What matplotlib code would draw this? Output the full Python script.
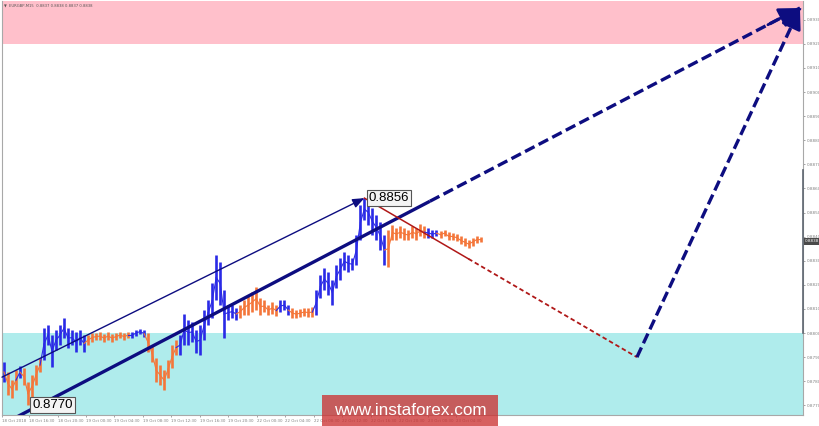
import numpy as np
import matplotlib
matplotlib.use("Agg")
import matplotlib.pyplot as plt
from matplotlib.transforms import blended_transform_factory
from matplotlib.patches import Rectangle

# ---------------- data ----------------
highs = [0.87880, 0.87838, 0.87805, 0.87846, 0.87863, 0.87855, 0.87797, 0.87826, 0.87867, 0.87896,
         0.88021, 0.88033, 0.87992, 0.88012, 0.88033, 0.88062, 0.88021, 0.88012, 0.88004, 0.88012,
         0.87992, 0.87992, 0.88000, 0.88000, 0.88004, 0.87996, 0.88004, 0.87996, 0.88000, 0.88004,
         0.88000, 0.88004, 0.88004, 0.88012, 0.88017, 0.88012, 0.88000, 0.87950, 0.87896, 0.87867,
         0.87846, 0.87888, 0.87950, 0.87971, 0.87992, 0.88079, 0.88054, 0.88046, 0.88012, 0.88033,
         0.88095, 0.88137, 0.88207, 0.88324, 0.88295, 0.88178, 0.88116, 0.88116, 0.88104, 0.88116,
         0.88137, 0.88158, 0.88170, 0.88191, 0.88145, 0.88137, 0.88116, 0.88129, 0.88116, 0.88137,
         0.88137, 0.88116, 0.88104, 0.88095, 0.88100, 0.88104, 0.88104, 0.88108, 0.88178, 0.88241,
         0.88270, 0.88253, 0.88220, 0.88282, 0.88311, 0.88336, 0.88324, 0.88311, 0.88407, 0.88531,
         0.88560, 0.88552, 0.88519, 0.88490, 0.88461, 0.88407, 0.88427, 0.88448, 0.88436, 0.88444,
         0.88436, 0.88427, 0.88444, 0.88436, 0.88452, 0.88444, 0.88436, 0.88427, 0.88427, 0.88423,
         0.88427, 0.88419, 0.88415, 0.88411, 0.88402, 0.88394, 0.88386, 0.88394, 0.88402, 0.88398]

lows = [0.87797, 0.87743, 0.87730, 0.87763, 0.87813, 0.87784, 0.87700, 0.87730, 0.87784, 0.87838,
        0.87888, 0.87950, 0.87859, 0.87929, 0.87950, 0.87979, 0.87938, 0.87950, 0.87921, 0.87950,
        0.87921, 0.87950, 0.87963, 0.87971, 0.87971, 0.87963, 0.87971, 0.87963, 0.87971, 0.87979,
        0.87971, 0.87979, 0.87979, 0.87988, 0.87996, 0.87983, 0.87921, 0.87880, 0.87797, 0.87784,
        0.87763, 0.87813, 0.87855, 0.87909, 0.87909, 0.87950, 0.87950, 0.87963, 0.87917, 0.87909,
        0.87971, 0.88033, 0.88062, 0.88137, 0.88116, 0.87979, 0.88054, 0.88062, 0.88054, 0.88062,
        0.88075, 0.88075, 0.88087, 0.88095, 0.88075, 0.88087, 0.88075, 0.88079, 0.88071, 0.88087,
        0.88095, 0.88075, 0.88062, 0.88062, 0.88066, 0.88071, 0.88066, 0.88066, 0.88075, 0.88145,
        0.88178, 0.88158, 0.88116, 0.88187, 0.88220, 0.88261, 0.88253, 0.88261, 0.88282, 0.88386,
        0.88469, 0.88448, 0.88407, 0.88386, 0.88344, 0.88282, 0.88274, 0.88386, 0.88386, 0.88394,
        0.88386, 0.88386, 0.88394, 0.88386, 0.88402, 0.88394, 0.88394, 0.88394, 0.88402, 0.88394,
        0.88402, 0.88386, 0.88386, 0.88382, 0.88369, 0.88361, 0.88353, 0.88361, 0.88373, 0.88378]

# wave colouring: run-length of (wave type, number of samples)
wave_runs = [("up", 1), ("down", 3), ("up", 1), ("down", 5), ("up", 11), ("down", 11),
             ("up", 4), ("down", 8), ("up", 15), ("down", 10), ("up", 3), ("down", 6),
             ("up", 18), ("down", 10), ("up", 3), ("down", 11)]

first_bar = 1.1      # M15 bar index of first sample
bar_step = 2.25      # M15 bars per sample

price_ticks = [round(0.8770 + 0.001 * k, 4) for k in range(17)]
time_labels = ["18 Oct 2018", "18 Oct 16:30", "18 Oct 20:30", "19 Oct 00:30", "19 Oct 04:30",
               "19 Oct 08:30", "19 Oct 12:30", "19 Oct 16:30", "19 Oct 20:30", "22 Oct 00:30",
               "22 Oct 04:30", "22 Oct 08:30", "22 Oct 12:30", "22 Oct 16:30", "22 Oct 20:30",
               "23 Oct 00:30", "23 Oct 04:30"]
time_tick_bars = [0] + [15.2 + 16 * k for k in range(16)]

resistance_zone = (0.8920, 0.8950)
support_zone = (0.8750, 0.8800)

channel_thin_start = (0.0, 0.87817)
channel_thick = [(-2.0, 0.87612), (448.3, 0.89349)]
thick_solid_until = 240.4
target_low = (356.7, 0.8790)
red_solid_until = 262.0
current_price = 0.8838
header = "EURGBP,M15  0.8837 0.8838 0.8837 0.8838"

# ---------------- styles ----------------
BLUE = "#2A2AE6"
ORANGE = "#F4763A"
NAVY = "#0D0D80"
RED = "#B01818"
PINK = "#FFC0CB"
CYAN = "#AFECEC"
GRAY = "#808080"

W, H = 820, 426
fig = plt.figure(figsize=(W / 100, H / 100), dpi=100)
ax = fig.add_axes([2 / W, 11 / H, 801 / W, 414 / H])
ax.set_xlim(0, 450)
ax.set_ylim(0.87660, 0.89378)

# zones
ax.axhspan(*resistance_zone, color=PINK, zorder=0, lw=0)
ax.axhspan(*support_zone, color=CYAN, zorder=0, lw=0)

# price bars
n = len(highs)
xs = first_bar + bar_step * np.arange(n)
colours = []
for kind, cnt in wave_runs:
    colours += [BLUE if kind == "up" else ORANGE] * cnt
ax.vlines(xs, lows, highs, colors=colours, lw=1.9, zorder=3)
for i in range(n - 1):
    ax.plot([xs[i], xs[i + 1]], [(highs[i] + lows[i]) / 2, (highs[i + 1] + lows[i + 1]) / 2],
            color=colours[i + 1], lw=0.8, zorder=3)

ipk = int(np.argmax(highs))
peak = (xs[ipk], highs[ipk])
ilo = int(np.argmin(lows))
low = (xs[ilo], lows[ilo])

# thin channel line with arrow to the peak
ax.annotate("", xy=peak, xytext=channel_thin_start,
            arrowprops=dict(arrowstyle="-|>,head_length=0.7,head_width=0.28", color=NAVY,
                            lw=1.0, shrinkA=0, shrinkB=0), zorder=5)

# thick channel line: solid then dashed with arrow
(x0, y0), (x1, y1) = channel_thick
ysplit = y0 + (y1 - y0) * (thick_solid_until - x0) / (x1 - x0)
ax.plot([x0, thick_solid_until], [y0, ysplit], color=NAVY, lw=2.4, zorder=5,
        solid_capstyle="butt")
ax.plot([thick_solid_until, x1], [ysplit, y1], color=NAVY, lw=2.4, zorder=5,
        dashes=(3.2, 1.4))

# red line from the peak to the target low
rsplit = peak[1] + (target_low[1] - peak[1]) * (red_solid_until - peak[0]) / (target_low[0] - peak[0])
ax.plot([peak[0], red_solid_until], [peak[1], rsplit], color=RED, lw=1.1, zorder=5)
ax.plot([red_solid_until, target_low[0]], [rsplit, target_low[1]], color=RED, lw=1.3,
        dashes=(2.5, 1.6), zorder=5)

# steep dashed line up to the target
ax.plot([target_low[0], x1], [target_low[1], y1], color=NAVY, lw=2.4, dashes=(3.2, 1.4),
        zorder=5)


def head(p_from, p_to):
    fx = p_to[0] - (p_to[0] - p_from[0]) * 0.04
    fy = p_to[1] - (p_to[1] - p_from[1]) * 0.04
    ax.annotate("", xy=p_to, xytext=(fx, fy),
                arrowprops=dict(arrowstyle="-|>,head_length=0.9,head_width=0.45", color=NAVY,
                                lw=2.0, shrinkA=0, shrinkB=0, mutation_scale=14), zorder=6)


head((x0, y0), (x1, y1))
head(target_low, (x1, y1))

# value labels
box = dict(boxstyle="square,pad=0.15", fc="#F4F4F4", ec="#555555", lw=0.8)
ax.annotate(f"{highs[ipk]:.4f}", xy=peak, xytext=(3, 0), textcoords="offset points",
            ha="left", va="center", fontsize=9.5, family="Liberation Sans", color="black",
            bbox=box, zorder=7)
ax.annotate(f"{lows[ilo]:.4f}", xy=low, xytext=(3, 0), textcoords="offset points",
            ha="left", va="center", fontsize=9.5, family="Liberation Sans", color="black",
            bbox=box, zorder=7)

# axes styling
ax.spines["top"].set_visible(False)
for s in ["left", "bottom", "right"]:
    ax.spines[s].set_color("#A8A8A8")
    ax.spines[s].set_linewidth(0.8)
ax.yaxis.tick_right()
ax.set_yticks(price_ticks)
ax.set_yticklabels([f"{p:.4f}" for p in price_ticks])
ax.tick_params(axis="y", labelsize=3.0, colors=GRAY, length=1.5, width=0.5, pad=1.0)
ax.set_xticks(time_tick_bars)
ax.set_xticklabels(time_labels)
ax.tick_params(axis="x", labelsize=2.8, colors=GRAY, length=1.5, width=0.5, pad=1.5)
for lbl in ax.get_xticklabels():
    lbl.set_ha("left")

trans = blended_transform_factory(ax.transAxes, ax.transData)
ax.plot([1, 1], [0.8800, 0.88676], transform=trans, color="#5E6670", lw=1.2, clip_on=False,
        zorder=8)
ax.text(1.002, current_price, f"{current_price:.4f}", transform=trans, ha="left", va="center",
        fontsize=3.0, color="white",
        bbox=dict(boxstyle="square,pad=0.25", fc="#4A4A4A", ec="none"), zorder=9)

# header
fig.text(4 / W, 1 - 6 / H, "\u25BC", fontsize=2.6, color="#555555", va="center")
fig.text(9 / W, 1 - 6 / H, header, fontsize=2.7, color="#555555", va="center")

# watermark
fig.patches.append(Rectangle((322 / W, 0), 176 / W, 31 / H, transform=fig.transFigure,
                             facecolor="#CC3333", alpha=0.78, edgecolor="none", zorder=20))
fig.text(410 / W, 15.5 / H, "www.instaforex.com", ha="center", va="center", color="white",
         fontsize=12.3, family="Liberation Sans", zorder=21)

fig.savefig("out.png", dpi=100)
